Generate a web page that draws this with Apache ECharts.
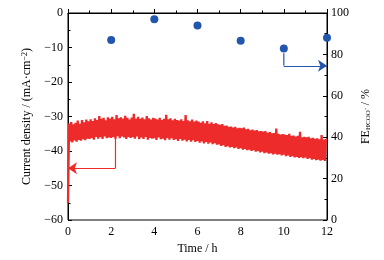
<!DOCTYPE html>
<html>
<head>
<meta charset="utf-8">
<script src="https://cdn.jsdelivr.net/npm/echarts@6/dist/echarts.min.js"></script>
<style>
  html, body { margin: 0; padding: 0; background: #fff; }
  #chart { width: 384px; height: 260px; }
</style>
</head>
<body>
<div id="chart"></div>
<script>
// sampling step of the current record, hours
const timeStep = 0.05;

// current density, mA/cm2, one value per sample (noisy record)
const currentDensity = [
  -55, -32.0, -37.2, -31.6, -37.5, -32.3, -36.9, -31.8, -37.3, -31.2, -36.8, -32.1, -37.0, -31.0, -36.6, -31.7, -36.9, -30.9, -36.4, -31.4,
  -36.5, -30.8, -36.2, -31.3, -36.7, -30.5, -35.9, -31.0, -36.4, -29.9, -36.0, -30.7, -36.5, -30.4, -35.8, -31.1, -36.3, -30.2, -36.1, -30.6,
  -36.2, -30.1, -35.9, -30.8, -36.4, -29.6, -35.7, -30.5, -36.3, -30.2, -35.8, -30.6, -36.1, -29.8, -36.5, -30.4, -35.9, -30.9, -36.2, -30.3,
  -36.0, -29.2, -36.4, -30.6, -35.8, -30.1, -36.6, -30.7, -36.1, -30.3, -36.5, -30.8, -35.9, -29.9, -36.7, -30.5, -36.2, -30.9, -36.4, -30.4,
  -36.3, -30.6, -36.8, -30.9, -36.1, -30.4, -36.6, -31.0, -36.4, -30.7, -36.9, -29.5, -36.2, -30.8, -36.7, -30.5, -36.3, -31.1, -36.8, -30.7,
  -36.6, -31.0, -37.1, -31.2, -36.5, -30.8, -37.0, -31.3, -36.7, -29.6, -37.2, -31.1, -36.8, -31.4, -37.3, -30.9, -36.9, -31.5, -37.4, -31.2,
  -37.1, -31.5, -37.6, -31.8, -37.2, -31.4, -37.8, -32.0, -37.4, -31.3, -37.9, -32.1, -37.5, -31.7, -38.0, -32.2, -37.7, -31.9, -38.2, -32.3,
  -38.1, -32.4, -38.5, -32.2, -38.3, -32.7, -38.8, -32.6, -38.6, -33.0, -39.0, -32.9, -38.8, -33.2, -39.2, -33.0, -39.0, -33.4, -39.4, -33.3,
  -39.2, -33.4, -39.6, -33.2, -39.4, -33.7, -39.8, -33.6, -39.6, -34.0, -40.0, -33.8, -39.8, -34.1, -40.2, -33.9, -40.0, -34.3, -40.4, -34.2,
  -40.2, -34.4, -40.6, -34.2, -40.4, -34.7, -40.8, -34.5, -40.6, -34.9, -41.0, -34.8, -40.8, -33.5, -41.1, -35.0, -40.9, -35.2, -41.3, -35.1,
  -41.1, -35.2, -41.5, -35.4, -41.3, -35.0, -41.7, -35.6, -41.5, -35.5, -41.9, -35.8, -41.7, -35.6, -42.0, -34.4, -41.8, -36.0, -42.1, -35.9,
  -41.9, -36.0, -42.3, -35.9, -42.1, -36.3, -42.5, -36.2, -42.3, -36.5, -42.7, -36.3, -42.5, -36.6, -42.8, -35.4, -42.6, -36.7, -42.9, -36.6,
  -37.0
];

// Faradaic efficiency of formate, %
const feHours = [2, 4, 6, 8, 10, 12];
const feValues = [87, 97, 94, 86.6, 82.9, 88];

// arrows pointing to the axis each series belongs to: a drop, then a head
const redArrowDrop = [[2.2, -36], [2.2, -45]];
const redArrowHead = [[2.2, -45], [0, -45]];
const blueArrowDrop = [[10, 80.5], [10, 74.5]];
const blueArrowHead = [[10, 74.5], [12, 74.5]];

const font = 'Liberation Serif';
const red = '#ee2b2b';
const blue = '#2357ad';

const chart = echarts.init(document.getElementById('chart'));

const axisBase = {
  axisLine: { show: true, lineStyle: { color: '#000', width: 1 } },
  axisTick: { show: true, inside: true, length: 4, lineStyle: { color: '#000' } },
  minorTick: { show: true, splitNumber: 2, length: 2.5, lineStyle: { color: '#000' } },
  splitLine: { show: false },
  nameLocation: 'middle',
  nameTextStyle: { fontFamily: font, fontSize: 12, color: '#000' }
};

const minus = (v) => String(v).replace('-', '\u2212');

const drop = (coords, yAxisIndex, color) => ({
  type: 'line',
  yAxisIndex,
  data: coords,
  showSymbol: false,
  lineStyle: { color, width: 1.2 },
  z: 3
});

const head = (coords, yAxisIndex, color) => ({
  type: 'lines',
  coordinateSystem: 'cartesian2d',
  xAxisIndex: 0,
  yAxisIndex,
  symbol: ['none', 'arrow'],
  symbolSize: [6, 9],
  lineStyle: { color, width: 1.2, opacity: 1 },
  data: [{ coords }],
  z: 3
});

const option = {
  animation: false,
  textStyle: { fontFamily: font },
  grid: {
    left: 68, right: 57, top: 13, bottom: 40,
    show: true, borderColor: '#000', borderWidth: 1
  },
  xAxis: {
    ...axisBase,
    type: 'value',
    min: 0, max: 12, interval: 2,
    name: 'Time / h',
    nameGap: 22,
    axisLabel: { fontFamily: font, fontSize: 12, color: '#000', margin: 6 }
  },
  yAxis: [
    {
      ...axisBase,
      type: 'value',
      position: 'left',
      min: -60, max: 0, interval: 10,
      name: 'Current density / (mA\u00b7cm{sup|\u22122})',
      nameRotate: 90,
      nameGap: 21,
      nameTextStyle: {
        fontFamily: font, fontSize: 12, color: '#000',
        rich: { sup: { fontFamily: font, fontSize: 8, verticalAlign: 'top', color: '#000' } }
      },
      axisLabel: { fontFamily: font, fontSize: 12, color: '#000', margin: 5, formatter: minus }
    },
    {
      ...axisBase,
      type: 'value',
      position: 'right',
      min: 0, max: 100, interval: 20,
      name: '{n|FE}{sub|HCOO\u207b}{n| / %}',
      nameRotate: 90,
      nameGap: 16,
      nameTextStyle: {
        rich: {
          n: { fontFamily: font, fontSize: 12, color: '#000' },
          sub: { fontFamily: font, fontSize: 7, verticalAlign: 'bottom', color: '#000' }
        }
      },
      axisLabel: { fontFamily: font, fontSize: 12, color: '#000', margin: 4 }
    }
  ],
  series: [
    {
      type: 'line',
      yAxisIndex: 0,
      data: currentDensity.map((v, i) => [i * timeStep, v]),
      showSymbol: false,
      lineStyle: { color: red, width: 2.3 },
      z: 2
    },
    drop(redArrowDrop, 0, red),
    head(redArrowHead, 0, red),
    {
      type: 'scatter',
      yAxisIndex: 1,
      data: feHours.map((h, i) => [h, feValues[i]]),
      symbolSize: 8,
      itemStyle: { color: blue, opacity: 1 },
      z: 4
    },
    drop(blueArrowDrop, 1, blue),
    head(blueArrowHead, 1, blue)
  ]
};

chart.setOption(option);
</script>
</body>
</html>
